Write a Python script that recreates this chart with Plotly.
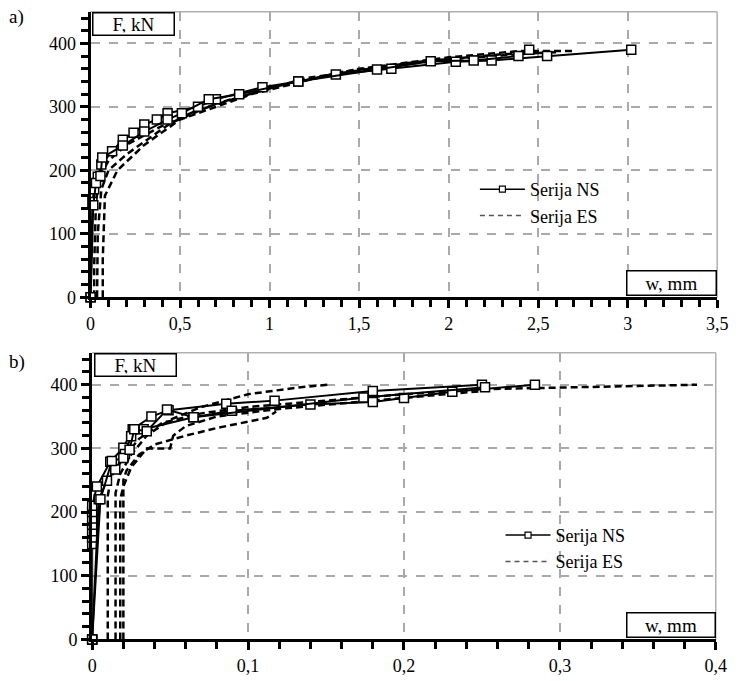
import plotly.graph_objects as go

# ---------------- data: panel a) ----------------
a_ns1_w = [0, 0.01, 0.02, 0.04, 0.06, 0.12, 0.18, 0.24, 0.30, 0.37, 0.43, 0.60, 0.70, 0.96, 1.16, 1.37, 1.68, 2.04, 2.24, 2.55, 3.02]
a_ns1_f = [0, 150, 170, 190, 209, 230, 248, 259, 272, 280, 290, 300, 312, 331, 340, 351, 360, 371, 373, 380, 390]
a_ns2_w = [0, 0.015, 0.03, 0.055, 0.065, 0.18, 0.30, 0.43, 0.51, 0.66, 0.83, 1.16, 1.60, 1.90, 2.14, 2.39, 2.45]
a_ns2_f = [0, 145, 180, 191, 220, 239, 261, 280, 290, 312, 320, 340, 359, 372, 373, 380, 390]

a_es1_w = [0.02, 0.02, 0.03, 0.05, 0.10, 0.20, 0.40, 0.60, 1.00, 1.50, 2.00, 2.40, 2.69]
a_es1_f = [0, 50, 150, 190, 215, 240, 270, 295, 330, 360, 378, 388, 388]
a_es2_w = [0.036, 0.04, 0.06, 0.10, 0.20, 0.30, 0.45, 0.70, 1.20, 1.80, 2.30, 2.60]
a_es2_f = [0, 100, 170, 200, 225, 245, 275, 305, 345, 370, 383, 386]
a_es3_w = [0.068, 0.068, 0.08, 0.15, 0.30, 0.50, 0.90, 1.40, 2.00, 2.50]
a_es3_f = [0, 60, 160, 200, 240, 280, 320, 355, 375, 385]

# ---------------- data: panel b) ----------------
b_ns1_w = [0, 0, 0, 0, 0, 0, 0, 0, 0.003, 0.0116, 0.020, 0.026, 0.038, 0.049, 0.086, 0.117, 0.180, 0.250]
b_ns1_f = [0, 150, 160, 170, 180, 190, 200, 210, 240, 279, 301, 330, 350, 360, 370, 375, 390, 400]
b_ns2_w = [0, 0.0042, 0.0095, 0.0148, 0.021, 0.025, 0.033, 0.065, 0.0895, 0.140, 0.180, 0.200, 0.231, 0.284]
b_ns2_f = [0, 220, 249, 267, 291, 319, 330, 349, 359, 369, 373, 379, 389, 400]
b_ns3_w = [0, 0.0053, 0.0126, 0.020, 0.024, 0.027, 0.035, 0.048, 0.065, 0.174, 0.252]
b_ns3_f = [0, 220, 280, 285, 298, 330, 327, 361, 349, 380, 396]

b_es1_w = [0.010, 0.010, 0.012, 0.020, 0.030, 0.045, 0.070, 0.100, 0.150, 0.200, 0.250, 0.300, 0.350, 0.388]
b_es1_f = [0, 225, 255, 285, 315, 340, 355, 365, 375, 385, 393, 395, 398, 400]
b_es2_w = [0.015, 0.015, 0.018, 0.025, 0.035, 0.050, 0.070, 0.100, 0.130, 0.151]
b_es2_f = [0, 230, 260, 290, 320, 345, 365, 385, 395, 400]
b_es3_w = [0.020, 0.020, 0.022, 0.030, 0.040, 0.060, 0.080, 0.100, 0.112, 0.118]
b_es3_f = [0, 250, 265, 290, 306, 320, 332, 342, 348, 358]
b_es4_w = [0.018, 0.018, 0.020, 0.025, 0.035, 0.050, 0.052, 0.060, 0.080, 0.120, 0.180, 0.230, 0.250]
b_es4_f = [0, 220, 240, 270, 300, 300, 320, 335, 350, 362, 375, 385, 390]

x_ticks_a = [0, 0.5, 1, 1.5, 2, 2.5, 3, 3.5]
x_ticks_b = [0, 0.1, 0.2, 0.3, 0.4]
y_ticks = [0, 100, 200, 300, 400]

FONT = "Liberation Serif"
fig = go.Figure()

ns_line = dict(color="black", width=2)
es_line = dict(color="black", width=2.5, dash="7px,4px")
sq = dict(symbol="square", size=9, color="white", line=dict(color="black", width=1.5))

def add_ns(w, f, xa, ya):
    fig.add_trace(go.Scatter(x=w, y=f, mode="lines+markers", line=ns_line, marker=sq, cliponaxis=False,
                             xaxis=xa, yaxis=ya, showlegend=False, hoverinfo="skip"))

def add_es(w, f, xa, ya):
    fig.add_trace(go.Scatter(x=w, y=f, mode="lines", line=es_line,
                             xaxis=xa, yaxis=ya, showlegend=False, hoverinfo="skip"))

for w, f in [(a_es1_w, a_es1_f), (a_es2_w, a_es2_f), (a_es3_w, a_es3_f)]:
    add_es(w, f, "x", "y")
for w, f in [(a_ns1_w, a_ns1_f), (a_ns2_w, a_ns2_f)]:
    add_ns(w, f, "x", "y")
for w, f in [(b_es1_w, b_es1_f), (b_es2_w, b_es2_f), (b_es3_w, b_es3_f), (b_es4_w, b_es4_f)]:
    add_es(w, f, "x2", "y2")
for w, f in [(b_ns1_w, b_ns1_f), (b_ns2_w, b_ns2_f), (b_ns3_w, b_ns3_f)]:
    add_ns(w, f, "x2", "y2")

# legend entries
for xa, ya, lg in [("x", "y", "legend"), ("x2", "y2", "legend2")]:
    fig.add_trace(go.Scatter(x=[None], y=[None], mode="lines+markers", name="Serija NS",
                             line=dict(color="black", width=1.5),
                             marker=dict(symbol="square", size=6, color="white", line=dict(color="black", width=1.2)),
                             xaxis=xa, yaxis=ya, legend=lg))
    fig.add_trace(go.Scatter(x=[None], y=[None], mode="lines", name="Serija ES",
                             line=dict(color="#555555", width=1.5, dash="5px,4px"),
                             xaxis=xa, yaxis=ya, legend=lg))

W, H = 743, 681
ML, MR, MT, MB = 20, 5, 5, 20
PW, PH = W - ML - MR, H - MT - MB
def xdom(l, r):
    return [(l - ML) / PW, (r - ML) / PW]
def ydom(t, b):
    return [(H - MB - b) / PH, (H - MB - t) / PH]

common = dict(showline=True, linecolor="black", linewidth=3, ticks="outside", ticklen=8,
              tickwidth=2.5, tickcolor="black", showgrid=True, gridcolor="#aaaaaa", griddash="dash",
              gridwidth=1.5, zeroline=False)

def minor(d):
    return dict(dtick=d, ticks="outside", ticklen=7, tickwidth=2.5, tickcolor="black")

fig.update_layout(
    width=W, height=H, margin=dict(l=ML, r=MR, t=MT, b=MB),
    paper_bgcolor="white", plot_bgcolor="white", separators=", ",
    font=dict(family=FONT, size=18, color="black"),
    xaxis=dict(common, domain=xdom(91.7, 728), range=[x_ticks_a[0], x_ticks_a[-1]], tick0=x_ticks_a[0],
               dtick=x_ticks_a[1] - x_ticks_a[0], minor=minor(0.1), anchor="y"),
    yaxis=dict(common, domain=ydom(11.7, 299), range=[0, 450], tick0=y_ticks[0],
               dtick=y_ticks[1] - y_ticks[0], minor=minor(20), anchor="x"),
    xaxis2=dict(common, domain=xdom(93.3, 726.6), range=[x_ticks_b[0], x_ticks_b[-1]], tick0=x_ticks_b[0],
                dtick=x_ticks_b[1] - x_ticks_b[0], minor=minor(0.02), anchor="y2"),
    yaxis2=dict(common, domain=ydom(355, 643.3), range=[0, 450], tick0=y_ticks[0],
                dtick=y_ticks[1] - y_ticks[0], minor=minor(20), anchor="x2"),
    legend=dict(x=(482 - ML) / PW, y=(H - MB - 172) / PH, xanchor="left", yanchor="top", bgcolor="rgba(0,0,0,0)",
                font=dict(family=FONT, size=18), tracegroupgap=0, itemwidth=45),
    legend2=dict(x=(508 - ML) / PW, y=(H - MB - 520) / PH, xanchor="left", yanchor="top", bgcolor="rgba(0,0,0,0)",
                 font=dict(family=FONT, size=18), tracegroupgap=0, itemwidth=45),
)

# grey border (top and right)
for xr, yr in [("x domain", "y domain"), ("x2 domain", "y2 domain")]:
    fig.add_shape(type="line", xref=xr, yref=yr, x0=0, x1=1, y0=1, y1=1,
                  line=dict(color="#b0b0b0", width=1.5), layer="below")
    fig.add_shape(type="line", xref=xr, yref=yr, x0=1, x1=1, y0=0, y1=1,
                  line=dict(color="#b0b0b0", width=1.5), layer="below")

box = dict(bgcolor="white", bordercolor="black", borderwidth=1.5, borderpad=2,
           font=dict(family=FONT, size=19, color="black"), showarrow=False)
fig.add_annotation(text="F, kN", xref="x domain", yref="y domain", x=0.003, y=1,
                   xanchor="left", yanchor="top", width=76, height=17, **box)
fig.add_annotation(text="w, mm", xref="x domain", yref="y domain", x=1, y=0.005,
                   xanchor="right", yanchor="bottom", width=84, height=19, **box)
fig.add_annotation(text="F, kN", xref="x2 domain", yref="y2 domain", x=0.003, y=1,
                   xanchor="left", yanchor="top", width=76, height=17, **box)
fig.add_annotation(text="w, mm", xref="x2 domain", yref="y2 domain", x=1, y=0.005,
                   xanchor="right", yanchor="bottom", width=83, height=19, **box)

fig.add_annotation(text="a)", xref="paper", yref="paper", x=(7 - ML) / PW, y=(H - MB - 17) / PH, xanchor="left",
                   yanchor="middle", showarrow=False, font=dict(family=FONT, size=19, color="black"))
fig.add_annotation(text="b)", xref="paper", yref="paper", x=(7 - ML) / PW, y=(H - MB - 364) / PH, xanchor="left",
                   yanchor="middle", showarrow=False, font=dict(family=FONT, size=19, color="black"))

fig.write_html("out.html")
